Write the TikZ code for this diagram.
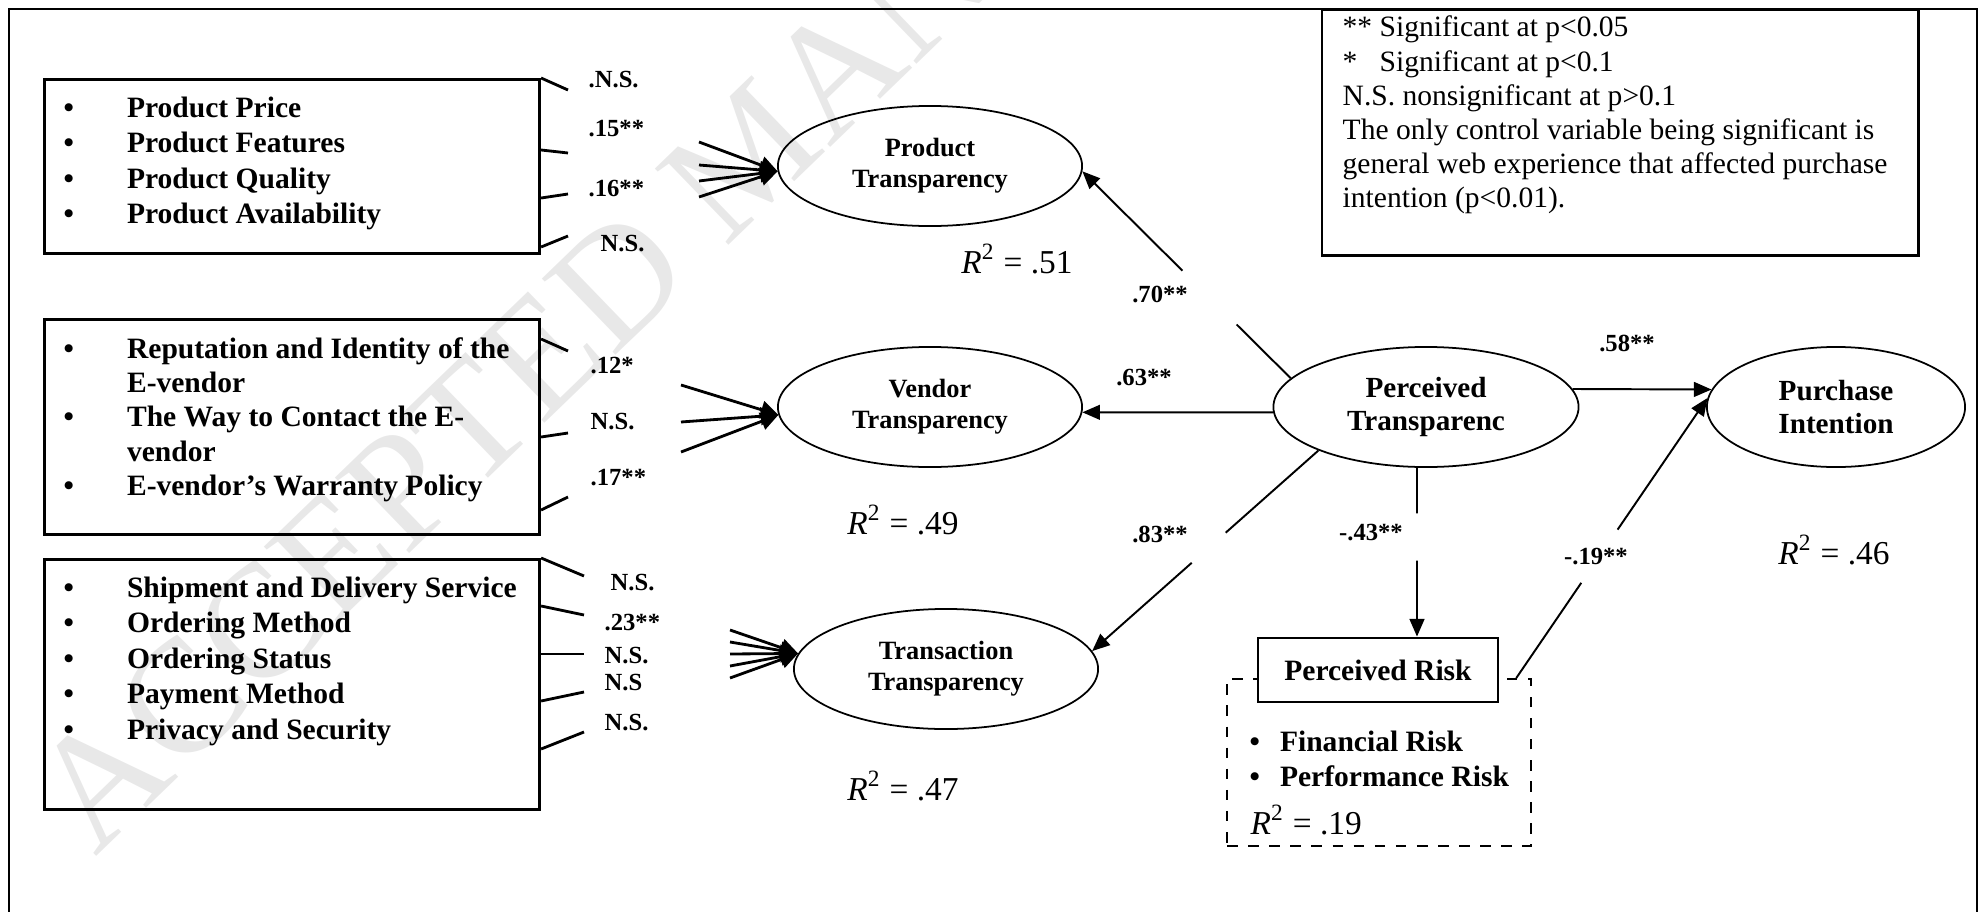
\documentclass[tikz,border=0pt]{standalone}
\usepackage{fontspec}
\setmainfont{Liberation Serif}
\usetikzlibrary{arrows.meta,shapes.geometric,calc}
\begin{document}
\begin{tikzpicture}[x=0.01cm,y=-0.01cm,
  frm/.style={line width=0.8pt},
  lbox/.style={draw, line width=0.8pt, rectangle, anchor=north west, inner sep=0pt},
  lst/.style={anchor=base west, inner sep=0pt, font=\bfseries\fontsize{8.4}{10.1}\selectfont},
  ell/.style={draw, ellipse, line width=0.5pt, minimum height=1.2cm, inner sep=0pt, align=center},
  ellsm/.style={ell, minimum width=3.04cm, font=\bfseries\fontsize{7.5}{8.8}\selectfont},
  ellbg/.style={ell, font=\bfseries\fontsize{8.3}{9.2}\selectfont},
  wt/.style={font=\bfseries\fontsize{7}{8}\selectfont, inner sep=0pt},
  wtw/.style={wt, anchor=west},
  rsq/.style={font=\fontsize{9.5}{11}\selectfont, inner sep=0pt},
  stub/.style={line width=0.8pt},
  fan/.style={line width=0.8pt, -{Triangle[length=5pt,width=5pt]}},
  con/.style={line width=0.55pt, -{Triangle[length=5pt,width=4.2pt]}},
  legtxt/.style={anchor=base west, inner sep=0pt, font=\fontsize{8.4}{9.7}\selectfont},
  wm/.style={text=black!9, font=\fontsize{46}{46}\selectfont, inner sep=0pt}]
\useasboundingbox (0,0) rectangle (1981,912);
% watermark
\begin{scope}
\clip (0,0) rectangle (1981,912);
\node[wm, rotate=44, anchor=base west] (wmk) at (95,858) {ACCEPTED MANUSCRIPT};
\end{scope}
% frame
\draw[frm] (9,912) -- (9,9) -- (1977,9) -- (1977,912);
% legend
\node[lbox, line width=0.7pt, minimum width=5.96cm, minimum height=2.45cm] (lg) at (1321,9) {};
\node[legtxt] (lgt) at (1342,37) {\begin{tabular}[t]{@{}l@{}}** Significant at p<0.05\\{*}\phantom{*} Significant at p<0.1\\N.S. nonsignificant at p>0.1\\The only control variable being significant is\\general web experience that affected purchase\\intention (p<0.01).\end{tabular}};
% indicator boxes
\node[lbox, minimum width=4.95cm, minimum height=1.74cm] (b1) at (43,78) {};
\node[lst] (b1t) at (63,117) {\begin{tabular}[t]{@{}l@{\hspace{0.53cm}}l@{}}•&Product Price\\•&Product Features\\•&Product Quality\\•&Product Availability\end{tabular}};
\node[lbox, minimum width=4.95cm, minimum height=2.15cm] (b2) at (43,318) {};
\node[lst, font=\bfseries\fontsize{8.4}{9.8}\selectfont] (b2t) at (63,358) {\begin{tabular}[t]{@{}l@{\hspace{0.53cm}}l@{}}•&Reputation and Identity of the\\&E-vendor\\•&The Way to Contact the E-\\&vendor\\•&E-vendor’s Warranty Policy\end{tabular}};
\node[lbox, minimum width=4.95cm, minimum height=2.5cm] (b3) at (43,558) {};
\node[lst] (b3t) at (63,597) {\begin{tabular}[t]{@{}l@{\hspace{0.53cm}}l@{}}•&Shipment and Delivery Service\\•&Ordering Method\\•&Ordering Status\\•&Payment Method\\•&Privacy and Security\end{tabular}};
% stubs
\coordinate (s11) at (568,90);
\coordinate (s12) at (568,153);
\coordinate (s13) at (568,194);
\coordinate (s14) at (568,236);
\draw[stub] (b1.north east) -- (s11);
\draw[stub] (b1.east |- 0,150) -- (s12);
\draw[stub] (b1.east |- 0,198) -- (s13);
\draw[stub] (b1.east |- 0,247) -- (s14);
\coordinate (s21) at (568,351);
\coordinate (s22) at (568,433);
\coordinate (s23) at (568,497);
\draw[stub] (b2.east |- 0,339) -- (s21);
\draw[stub] (b2.east |- 0,437) -- (s22);
\draw[stub] (b2.east |- 0,510) -- (s23);
\coordinate (s31) at (584,576);
\coordinate (s32) at (584,615);
\coordinate (s33) at (584,654);
\coordinate (s34) at (584,692);
\coordinate (s35) at (584,732);
\draw[stub] (b3.north east) -- (s31);
\draw[stub] (b3.east |- 0,606) -- (s32);
\draw[stub] (b3.east |- 0,654) -- (s33);
\draw[stub] (b3.east |- 0,701) -- (s34);
\draw[stub] (b3.east |- 0,749) -- (s35);
% stub labels
\node[wtw] (l11) at (588,80) {.N.S.};
\node[wtw] (l12) at (588,129) {.15**};
\node[wtw] (l13) at (588,189) {.16**};
\node[wtw] (l14) at (600,244) {N.S.};
\node[wtw] (l21) at (590,366) {.12*};
\node[wtw] (l22) at (590,422) {N.S.};
\node[wtw] (l23) at (590,478) {.17**};
\node[wtw] (l31) at (610,583) {N.S.};
\node[wtw] (l32) at (604,623) {.23**};
\node[wtw] (l33) at (604,656) {N.S.};
\node[wtw] (l34) at (604,683) {N.S};
\node[wtw] (l35) at (604,723) {N.S.};
% constructs
\node[ellsm] (pt) at (930,166) {Product\\Transparency};
\node[ellsm] (vt) at (930,407) {Vendor\\Transparency};
\node[ellsm] (tt) at (946,669) {Transaction\\Transparency};
\node[ellbg, minimum width=3.05cm] (ptr) at (1426,407) {Perceived\\Transparenc};
\node[ellbg, minimum width=2.58cm] (pi) at (1836,407) {Purchase\\Intention};
% perceived risk
\node[draw, dashed, line width=0.6pt, anchor=north west, minimum width=3.04cm, minimum height=1.67cm, inner sep=0pt] (rg) at (1226,678) {};
\node[draw, line width=0.8pt, fill=white, minimum width=2.4cm, minimum height=0.64cm, inner sep=0pt, font=\bfseries\fontsize{8.4}{10}\selectfont] (pr) at (1378,670) {Perceived Risk};
\node[lst, font=\bfseries\fontsize{8.4}{10.2}\selectfont] (rgt) at (1249,751) {\begin{tabular}[t]{@{}l@{\hspace{0.2cm}}l@{}}•&Financial Risk\\•&Performance Risk\end{tabular}};
% R squared
\node[rsq] (r51) at (1017,259) {\textit{R}\textsuperscript{2} = .51};
\node[rsq] (r49) at (903,520) {\textit{R}\textsuperscript{2} = .49};
\node[rsq] (r47) at (903,786) {\textit{R}\textsuperscript{2} = .47};
\node[rsq] (r46) at (1834,550) {\textit{R}\textsuperscript{2} = .46};
\node[rsq, anchor=west] (r19) at (1250,820) {\textit{R}\textsuperscript{2} = .19};
% fans
\foreach \i/\yy in {1/142,2/165,3/181,4/197}{
  \coordinate (fa\i) at (699,\yy);
  \draw[fan] (fa\i) -- (pt.182);
}
\foreach \i/\yy in {1/385,2/422,3/452}{
  \coordinate (fb\i) at (681,\yy);
  \draw[fan] (fb\i) -- (vt.183);
}
\foreach \i/\yy in {1/630,2/642,3/654,4/666,5/678}{
  \coordinate (fc\i) at (730,\yy);
  \draw[fan] (fc\i) -- (tt.174);
}
% structural paths
\draw[con] (ptr.182) -- (vt.358);
\draw[con] (ptr.7) -- (pi.172);
\draw[con] (ptr.168) -- ($(ptr.168)!0.26!(pt.358)$) ($(ptr.168)!0.52!(pt.358)$) -- (pt.358);
\draw[con] (ptr.202) -- ($(ptr.202)!0.41!(tt.7)$) ($(ptr.202)!0.56!(tt.7)$) -- (tt.7);
\coordinate (q1) at ([xshift=-0.09cm]ptr.south);
\coordinate (q2) at (q1 |- pr.north);
\draw[con] (q1) -- ($(q1)!0.27!(q2)$) ($(q1)!0.55!(q2)$) -- (q2);
\coordinate (q3) at ([xshift=-0.16cm]rg.north east);
\draw[con] (q3) -- ($(q3)!0.34!(pi.176)$) ($(q3)!0.53!(pi.176)$) -- (pi.176);
% path labels
\node[wt] (l58) at (1627,343) {.58**};
\node[wt] (l63) at (1144,378) {.63**};
\node[wt] (l70) at (1160,294) {.70**};
\node[wt] (l83) at (1160,534) {.83**};
\node[wt] (l43) at (1371,533) {-.43**};
\node[wt] (l19) at (1596,557) {-.19**};
\end{tikzpicture}
\end{document}
